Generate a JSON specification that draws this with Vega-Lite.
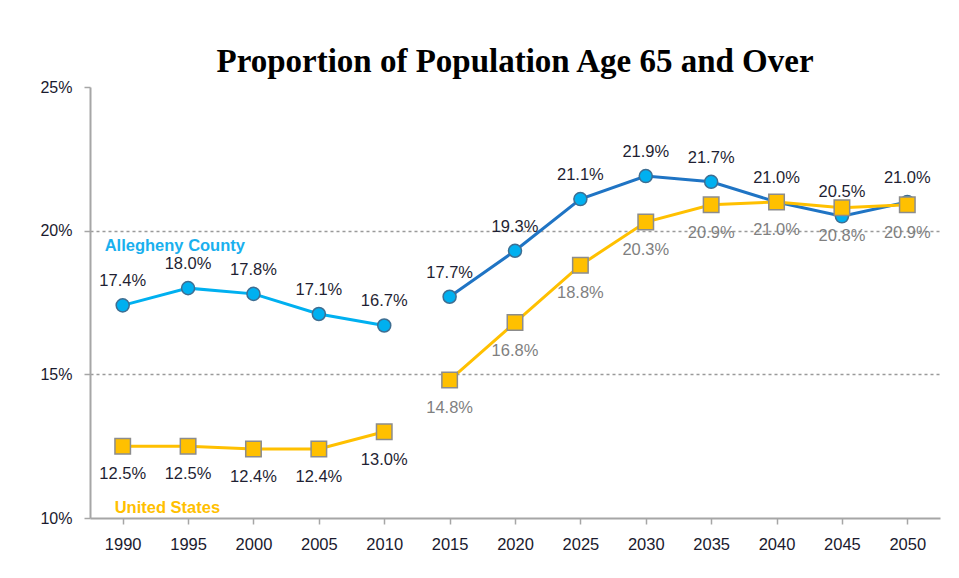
{
  "$schema": "https://vega.github.io/schema/vega-lite/v6.json",
  "autosize": {"type": "none"},
  "padding": {"left": 90, "top": 87, "right": 19, "bottom": 60},
  "width": 850,
  "height": 431,
  "background": "white",
  "title": {
    "text": "Proportion of Population Age 65 and Over",
    "font": "Liberation Serif",
    "fontSize": 33,
    "fontWeight": "bold",
    "color": "#000000",
    "anchor": "middle",
    "offset": 0
  },
  "config": {
    "view": {"stroke": null},
    "font": "Liberation Sans"
  },
  "data": {
    "values": [
      {"year": "1990", "series": "Allegheny County", "period": "Estimate", "value": 17.4},
      {"year": "1995", "series": "Allegheny County", "period": "Estimate", "value": 18.0},
      {"year": "2000", "series": "Allegheny County", "period": "Estimate", "value": 17.8},
      {"year": "2005", "series": "Allegheny County", "period": "Estimate", "value": 17.1},
      {"year": "2010", "series": "Allegheny County", "period": "Estimate", "value": 16.7},
      {"year": "2015", "series": "Allegheny County", "period": "Projection", "value": 17.7},
      {"year": "2020", "series": "Allegheny County", "period": "Projection", "value": 19.3},
      {"year": "2025", "series": "Allegheny County", "period": "Projection", "value": 21.1},
      {"year": "2030", "series": "Allegheny County", "period": "Projection", "value": 21.9},
      {"year": "2035", "series": "Allegheny County", "period": "Projection", "value": 21.7},
      {"year": "2040", "series": "Allegheny County", "period": "Projection", "value": 21.0},
      {"year": "2045", "series": "Allegheny County", "period": "Projection", "value": 20.5},
      {"year": "2050", "series": "Allegheny County", "period": "Projection", "value": 21.0},
      {"year": "1990", "series": "United States", "period": "Estimate", "value": 12.5},
      {"year": "1995", "series": "United States", "period": "Estimate", "value": 12.5},
      {"year": "2000", "series": "United States", "period": "Estimate", "value": 12.4},
      {"year": "2005", "series": "United States", "period": "Estimate", "value": 12.4},
      {"year": "2010", "series": "United States", "period": "Estimate", "value": 13.0},
      {"year": "2015", "series": "United States", "period": "Projection", "value": 14.8},
      {"year": "2020", "series": "United States", "period": "Projection", "value": 16.8},
      {"year": "2025", "series": "United States", "period": "Projection", "value": 18.8},
      {"year": "2030", "series": "United States", "period": "Projection", "value": 20.3},
      {"year": "2035", "series": "United States", "period": "Projection", "value": 20.9},
      {"year": "2040", "series": "United States", "period": "Projection", "value": 21.0},
      {"year": "2045", "series": "United States", "period": "Projection", "value": 20.8},
      {"year": "2050", "series": "United States", "period": "Projection", "value": 20.9}
    ]
  },
  "transform": [
    {"calculate": "datum.series + ' ' + datum.period", "as": "key"},
    {"calculate": "format(datum.value, '.1f') + '%'", "as": "lbl"}
  ],
  "encoding": {
    "x": {
      "field": "year",
      "type": "nominal",
      "sort": null,
      "scale": {"paddingInner": 0, "paddingOuter": 0},
      "axis": {
        "title": null,
        "labelAngle": 0,
        "labelFont": "Liberation Sans",
        "labelFontSize": 16.5,
        "labelColor": "#1a1a2e",
        "labelPadding": 12,
        "tickSize": 6,
        "tickColor": "#a6a6a6",
        "tickWidth": 1.5,
        "bandPosition": 0,
        "domainColor": "#a6a6a6",
        "domainWidth": 2,
        "grid": false
      }
    },
    "y": {
      "field": "value",
      "type": "quantitative",
      "scale": {"domain": [10, 25], "nice": false, "zero": false},
      "axis": {
        "title": null,
        "values": [10, 15, 20, 25],
        "labelExpr": "datum.value + '%'",
        "labelFont": "Liberation Sans",
        "labelFontSize": 16,
        "labelColor": "#1a1a2e",
        "labelPadding": 12,
        "tickSize": 6,
        "tickColor": "#a6a6a6",
        "tickWidth": 1.5,
        "domainColor": "#a6a6a6",
        "domainWidth": 2,
        "grid": true,
        "gridColor": "#9a9a9a",
        "gridDash": [3, 3],
        "gridWidth": 1.5,
        "gridOpacity": {"condition": {"test": "datum.value === 15 || datum.value === 20", "value": 1}, "value": 0}
      }
    }
  },
  "layer": [
    {
      "mark": {"type": "line", "strokeWidth": 3},
      "encoding": {
        "detail": {"field": "key"},
        "color": {
          "field": "key",
          "type": "nominal",
          "legend": null,
          "scale": {
            "domain": ["Allegheny County Estimate", "Allegheny County Projection", "United States Estimate", "United States Projection"],
            "range": ["#00b0f0", "#1f74c4", "#ffc000", "#ffc000"]
          }
        }
      }
    },
    {
      "transform": [{"filter": "datum.series === 'Allegheny County'"}],
      "mark": {"type": "point", "shape": "circle", "filled": true, "size": 170, "fill": "#00b0f0", "stroke": "#3e6e92", "strokeWidth": 1.5, "opacity": 1},
      "encoding": {}
    },
    {
      "transform": [{"filter": "datum.series === 'United States'"}],
      "mark": {"type": "point", "shape": "square", "filled": true, "size": 240, "fill": "#ffc000", "stroke": "#8c8c8c", "strokeWidth": 1.5, "opacity": 1},
      "encoding": {}
    },
    {
      "transform": [{"filter": "datum.series === 'Allegheny County'"}],
      "mark": {"type": "text", "dy": -24, "fontSize": 16.5, "font": "Liberation Sans", "color": "#1f1f33"},
      "encoding": {
        "text": {"field": "lbl", "type": "nominal"}
      }
    },
    {
      "transform": [{"filter": "datum.series === 'United States'"}],
      "mark": {"type": "text", "dy": 28, "fontSize": 16.5, "font": "Liberation Sans"},
      "encoding": {
        "text": {"field": "lbl", "type": "nominal"},
        "color": {
          "condition": {"test": "datum.period === 'Projection'", "value": "#7f7f7f"},
          "value": "#1f1f33"
        }
      }
    },
    {
      "transform": [{"filter": "datum.series === 'Allegheny County' && datum.year === '1990'"}],
      "mark": {"type": "text", "align": "left", "dx": -18, "fontSize": 16.5, "fontWeight": "bold", "font": "Liberation Sans", "color": "#1ab0ee"},
      "encoding": {
        "y": {"datum": 19.45},
        "text": {"field": "series", "type": "nominal"}
      }
    },
    {
      "transform": [{"filter": "datum.series === 'United States' && datum.year === '1990'"}],
      "mark": {"type": "text", "align": "left", "dx": -8, "fontSize": 16.5, "fontWeight": "bold", "font": "Liberation Sans", "color": "#ffc000"},
      "encoding": {
        "y": {"datum": 10.35},
        "text": {"field": "series", "type": "nominal"}
      }
    }
  ]
}
